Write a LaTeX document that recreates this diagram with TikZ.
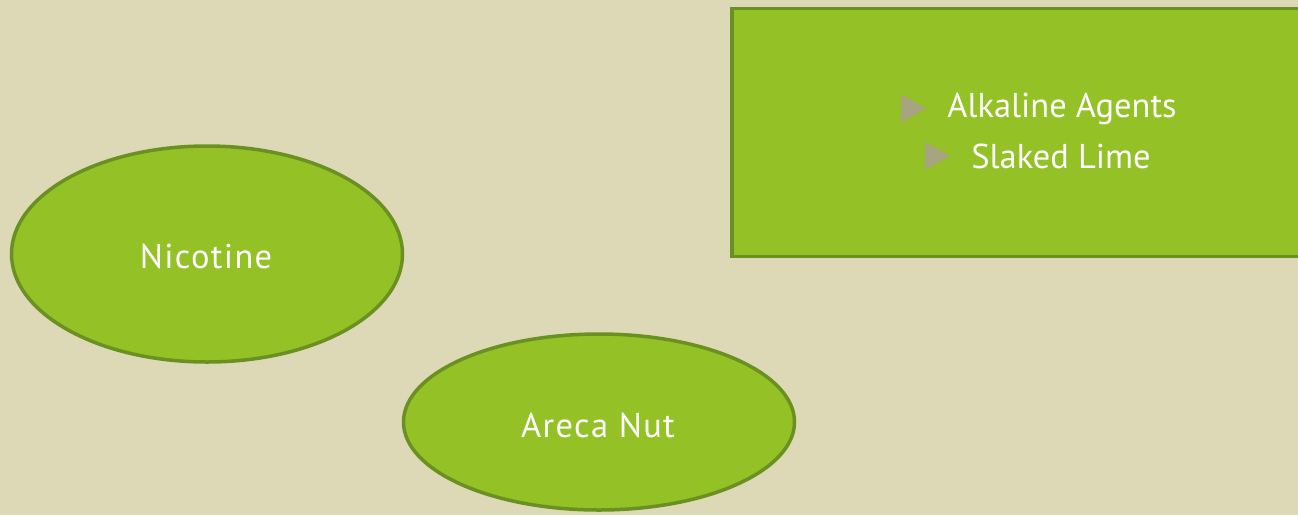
\documentclass[tikz,border=0pt]{standalone}
\usepackage{fontspec}
\setmainfont{PT Sans}
\usetikzlibrary{positioning,shapes.geometric}

\definecolor{paper}{RGB}{221,217,182}
\definecolor{leaf}{RGB}{147,193,38}
\definecolor{leafdark}{RGB}{107,144,34}
\definecolor{khaki}{RGB}{168,164,128}

\tikzset{
  elli/.style={ellipse, draw=leafdark, fill=leaf, line width=3.5*\px, inner sep=0pt},
  panel/.style={rectangle, draw=leafdark, fill=leaf, line width=3.5*\px, inner sep=0pt},
  itemtext/.style={text=white, inner sep=0pt, font=\fontsize{19.6pt}{22pt}\selectfont},
  bulletmark/.style={fill=khaki}
}

\begin{document}
\begin{tikzpicture}[x=0.02cm,y=-0.02cm]
\def\px{0.02cm}

% page and background
\useasboundingbox (0,0) rectangle (1298,515);
\fill[paper] (0,0) rectangle (1298,515);

% the two ellipses
\node[elli, minimum width=391*\px, minimum height=216*\px] (nicotine) at (207,254) {};
\node[elli, minimum width=391*\px, minimum height=176*\px] (areca) at (599,422) {};
\node[itemtext, anchor=base] (nicotinetext) at (206,268) {\addfontfeature{LetterSpace=4}Nicotine};
\node[itemtext, anchor=base] (arecatext) at (598,437) {\addfontfeature{LetterSpace=4}Areca Nut};

% box on the right, running off the page
\node[panel, minimum width=670*\px, minimum height=248*\px] (agents) at (1067,132.5) {};

\node[itemtext, anchor=base west] (alkaline) at (947,117) {Alkaline Agents};
\node[itemtext, anchor=base west] (lime) at (971,168) {Slaked Lime};

% bullets
\coordinate[left=34*\px of alkaline.west] (bulA);
\coordinate[left=34*\px of lime.west] (bulB);
\foreach \b in {bulA,bulB}
  \fill[bulletmark] ([shift={(-12,-14)}]\b) -- ([shift={(13,0)}]\b) -- ([shift={(-12,14)}]\b) -- cycle;

\end{tikzpicture}
\end{document}
